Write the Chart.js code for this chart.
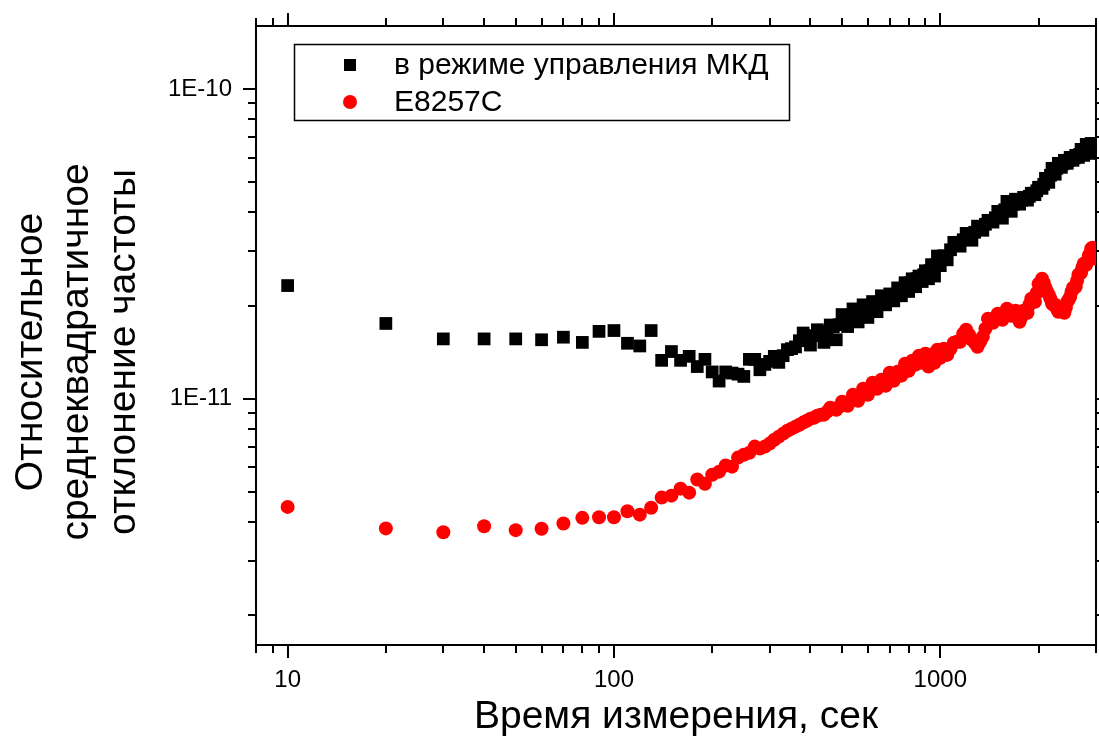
<!DOCTYPE html>
<html>
<head>
<meta charset="utf-8">
<script src="https://cdn.jsdelivr.net/npm/chart.js@4.4.1/dist/chart.umd.min.js"></script>
<style>
  html, body { margin: 0; background: #fff; }
  canvas { display: block; }
</style>
</head>
<body>
<canvas id="chart" width="1099" height="749"></canvas>
<script>
// averaging time, s
const tau = [
  10,20,30,40,50,60,70,80,90,100,
  110,120,130,140,150,160,170,180,190,200,
  210,220,230,240,250,260,270,280,290,300,
  310,320,330,340,350,360,370,380,390,400,
  410,420,430,440,450,460,470,480,490,500,
  510,520,530,540,550,560,570,580,590,600,
  610,620,630,640,650,660,670,680,690,700,
  710,720,730,740,750,760,770,780,790,800,
  810,820,830,840,850,860,870,880,890,900,
  910,920,930,940,950,960,970,980,990,1000,
  1025,1050,1075,1100,1125,1150,1175,1200,1225,1250,
  1275,1300,1325,1350,1375,1400,1425,1450,1475,1500,
  1525,1550,1575,1600,1625,1650,1675,1700,1725,1750,
  1775,1800,1825,1850,1875,1900,1925,1950,1975,2000,
  2025,2050,2075,2100,2125,2150,2175,2200,2225,2250,
  2275,2300,2325,2350,2375,2400,2425,2450,2475,2500,
  2525,2550,2575,2600,2625,2650,2675,2700,2725,2750,
  2775,2800,2825,2850,2875,2900,2925,2950,2975,3000];

// deviation, units of 1e-12
const devMkd = [
  23.2,17.5,15.6,15.6,15.6,15.5,15.8,15.2,16.5,16.6,
  15.1,14.8,16.6,13.3,14.2,13.3,13.7,12.7,13.4,12.2,
  11.4,12.2,12.1,12.0,11.8,13.4,13.4,12.4,12.9,13.2,
  13.7,13.1,13.77,14.4,14.51,14.7,15.39,16.3,15.63,14.9,
  15.98,16.7,16.22,15.2,16.46,17.3,17.08,15.5,17.34,18.7,
  17.86,17.1,18.26,19.5,18.54,17.7,18.96,20.1,19.24,18.3,
  19.67,20.6,19.97,19.1,20.27,21.5,20.57,20.1,20.88,21.8,
  21.04,20.7,21.51,22.8,22.0,21.5,22.49,23.7,23.0,22.2,
  23.69,24.4,24.05,23.0,24.41,24.9,24.77,23.9,25.15,25.9,
  25.33,24.4,25.9,27.1,26.29,24.9,27.09,28.9,27.7,26.9,
  28.96,28.1,30.28,32.0,31.66,31.1,32.62,34.2,33.48,32.5,
  34.49,36.1,35.53,35.0,36.6,37.7,37.57,37.2,38.42,40.3,
  39.58,38.3,40.77,43.4,41.69,40.3,42.47,44.1,43.27,42.5,
  43.75,44.7,44.24,43.8,45.07,46.1,46.09,45.6,46.95,48.2,
  48.19,47.8,49.28,51.5,51.15,50.0,52.69,55.5,54.28,53.1,
  55.51,57.6,56.76,55.9,57.39,58.9,58.25,57.6,58.91,60.2,
  59.57,58.9,60.01,61.1,60.68,60.2,61.59,63.9,62.75,61.1,
  63.69,66.3,64.16,62.0,64.40,66.8,64.64,63.0,64.88,66.8];

const devE8257C = [
  4.47,3.81,3.70,3.87,3.76,3.80,3.95,4.12,4.14,4.14,
  4.33,4.22,4.44,4.79,4.86,5.12,4.97,5.48,5.31,5.68,
  5.81,6.08,6.03,6.45,6.59,6.69,7.00,6.90,7.00,7.16,
  7.37,7.54,7.71,7.88,8.00,8.12,8.24,8.37,8.49,8.62,
  8.68,8.81,8.88,8.88,9.08,9.35,9.28,9.21,9.42,9.78,
  9.64,9.49,9.85,10.3,10.07,9.85,10.3,10.77,10.53,10.3,
  10.77,11.26,11.01,10.77,11.18,11.51,11.26,11.0,11.52,12.13,
  11.78,11.43,11.78,12.22,12.04,11.87,12.41,12.97,12.59,12.31,
  12.78,13.26,13.07,12.88,13.17,13.76,13.36,13.07,13.46,13.97,
  13.36,12.7,13.36,13.9,13.56,13.07,13.77,14.4,14.08,13.56,
  14.50,13.85,14.50,15.16,15.28,15.28,16.21,16.7,16.09,15.5,
  15.16,14.72,15.28,15.86,16.83,18.13,17.86,17.60,18.26,18.81,
  18.40,17.99,18.81,19.53,19.10,18.53,18.95,19.24,18.54,17.72,
  18.40,19.24,19.24,18.95,20.12,21.03,20.88,20.57,21.99,23.50,
  23.51,24.40,23.69,22.83,22.16,21.67,21.03,20.26,20.12,20.11,
  19.53,19.10,19.24,19.38,19.10,18.95,19.67,20.57,20.88,21.35,
  22.16,22.83,22.82,22.99,24.04,25.15,25.33,25.52,26.48,27.29,
  27.28,27.08,27.90,28.95,29.39,30.50,30.73,29.39,29.17,28.31];

const xMajor = [10, 100, 1000];
const xMinor = [8, 9, 20, 30, 40, 50, 60, 70, 80, 90, 200, 300, 400, 500, 600, 700, 800, 900, 2000, 3000];
const yMajor = [1e-11, 1e-10];
const yMinor = [2e-12, 3e-12, 4e-12, 5e-12, 6e-12, 7e-12, 8e-12, 9e-12,
  2e-11, 3e-11, 4e-11, 5e-11, 6e-11, 7e-11, 8e-11, 9e-11];
const yTitle = ['Относительное', 'среднеквадратичное', 'отклонение частоты'];

const FONT = "'Liberation Sans', Arial, sans-serif";
const border = { display: true, color: '#000', width: 2 };
const noPad = s => { s.paddingLeft = s.paddingRight = s.paddingTop = s.paddingBottom = 0; };

const tickMarks = {
  id: 'tickMarks',
  afterDraw(chart) {
    const { ctx, chartArea: a, scales } = chart;
    ctx.save();
    ctx.strokeStyle = '#000';
    ctx.lineWidth = 2;
    const seg = (x1, y1, x2, y2) => { ctx.beginPath(); ctx.moveTo(x1, y1); ctx.lineTo(x2, y2); ctx.stroke(); };
    [[xMajor, 13], [xMinor, 8]].forEach(([vals, len]) => vals.forEach(v => {
      const px = Math.round(scales.x.getPixelForValue(v));
      seg(px, a.bottom, px, a.bottom + len);
      seg(px, a.top, px, a.top - len);
    }));
    [[yMajor, 13], [yMinor, 8]].forEach(([vals, len]) => vals.forEach(v => {
      const py = Math.round(scales.y.getPixelForValue(v));
      seg(a.left, py, a.left - len, py);
      seg(a.right, py, a.right + len, py);
    }));
    ctx.restore();
  }
};

// y title, three rotated lines, a little below the plot centre as in the original
const yTitlePlugin = {
  id: 'yTitle',
  afterDraw(chart) {
    const ctx = chart.ctx;
    ctx.save();
    ctx.translate(31, 352);
    ctx.rotate(-Math.PI / 2);
    ctx.fillStyle = '#000';
    ctx.font = '39px ' + FONT;
    ctx.textAlign = 'center';
    ctx.textBaseline = 'middle';
    yTitle.forEach((line, i) => ctx.fillText(line, 0, i * 46.5));
    ctx.restore();
  }
};

const legendBox = {
  id: 'legendBox',
  afterDraw(chart) {
    const ctx = chart.ctx;
    const ds = chart.data.datasets;
    ctx.save();
    ctx.fillStyle = '#fff';
    ctx.fillRect(294, 44, 495, 76);
    ctx.strokeStyle = '#000';
    ctx.lineWidth = 1.5;
    ctx.strokeRect(294.5, 44.5, 495, 76);
    ctx.fillStyle = ds[0].backgroundColor;
    ctx.fillRect(344, 59, 12, 12);
    ctx.fillStyle = ds[1].backgroundColor;
    ctx.beginPath(); ctx.arc(350, 102, 7, 0, Math.PI * 2); ctx.fill();
    ctx.fillStyle = '#000';
    ctx.font = '30px ' + FONT;
    ctx.textBaseline = 'middle';
    ctx.fillText(ds[0].label, 394, 66);
    ctx.fillText(ds[1].label, 394, 103);
    ctx.restore();
  }
};

new Chart(document.getElementById('chart').getContext('2d'), {
  type: 'scatter',
  data: {
    datasets: [
      { label: 'в режиме управления МКД', data: tau.map((t, i) => ({ x: t, y: devMkd[i] * 1e-12 })),
        pointStyle: 'rect', pointRadius: 9, borderWidth: 0, backgroundColor: '#000', clip: 0 },
      { label: 'E8257C', data: tau.map((t, i) => ({ x: t, y: devE8257C[i] * 1e-12 })),
        pointStyle: 'circle', pointRadius: 7, borderWidth: 0, backgroundColor: '#ff0000', clip: 0 }
    ]
  },
  options: {
    responsive: false,
    devicePixelRatio: 1,
    animation: false,
    layout: { padding: 0, autoPadding: false },
    plugins: { legend: { display: false }, tooltip: { enabled: false } },
    elements: { point: { hoverRadius: 0 } },
    scales: {
      x: {
        type: 'logarithmic', position: 'bottom', min: 8, max: 3000,
        grid: { display: false, drawTicks: false }, border,
        afterBuildTicks: s => { s.ticks = xMajor.map(v => ({ value: v })); },
        afterFit: s => { s.height = 104; noPad(s); },
        ticks: { color: '#000', font: { family: FONT, size: 24 }, padding: 21, maxRotation: 0, autoSkip: false,
          callback: v => String(v) },
        title: { display: true, text: 'Время измерения, сек', color: '#000',
          font: { family: FONT, size: 39 }, padding: { bottom: 8 } }
      },
      x2: {
        type: 'logarithmic', position: 'top', min: 8, max: 3000,
        grid: { display: false, drawTicks: false }, border,
        ticks: { display: false },
        afterFit: s => { s.height = 26; noPad(s); }
      },
      y: {
        type: 'logarithmic', position: 'left', min: 1.6e-12, max: 1.6e-10,
        grid: { display: false, drawTicks: false }, border,
        afterBuildTicks: s => { s.ticks = yMajor.map(v => ({ value: v })); },
        afterFit: s => { s.width = 256; noPad(s); },
        ticks: { color: '#000', font: { family: FONT, size: 24 }, padding: 24, autoSkip: false,
          callback: v => '1E' + Math.round(Math.log10(v)) }
      },
      y2: {
        type: 'logarithmic', position: 'right', min: 1.6e-12, max: 1.6e-10,
        grid: { display: false, drawTicks: false }, border,
        ticks: { display: false },
        afterFit: s => { s.width = 3; noPad(s); }
      }
    }
  },
  plugins: [tickMarks, yTitlePlugin, legendBox]
});
</script>
</body>
</html>
